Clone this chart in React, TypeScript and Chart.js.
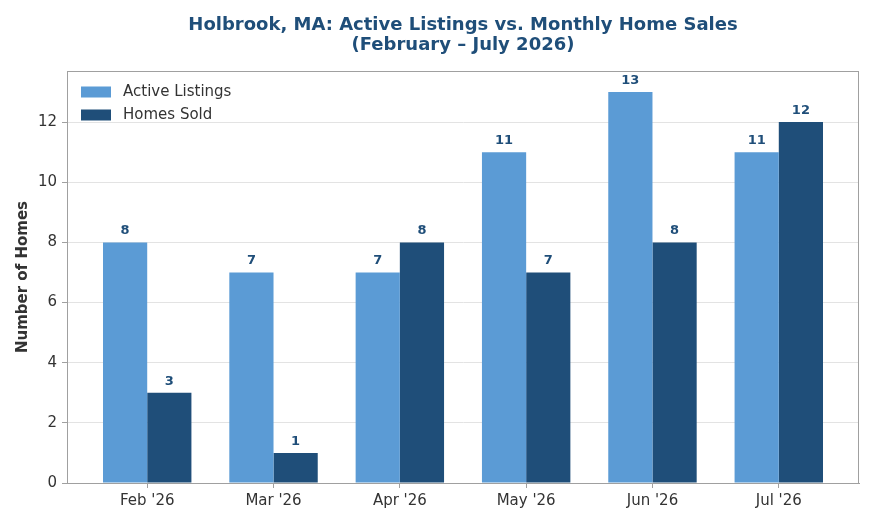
import React, { useEffect, useRef } from "react";
import { Chart, registerables } from "chart.js";

Chart.register(...registerables);

const categories = ["Feb '26", "Mar '26", "Apr '26", "May '26", "Jun '26", "Jul '26"];
const activeListings = [8, 7, 7, 11, 13, 11];
const homesSold = [3, 1, 8, 7, 8, 12];
const yTicks = [0, 2, 4, 6, 8, 10, 12];
const titleLines = ["Holbrook, MA: Active Listings vs. Monthly Home Sales", "(February \u2013 July 2026)"];
const yTitle = "Number of Homes";
const seriesNames = ["Active Listings", "Homes Sold"];
const colors = ["#5b9bd5", "#1f4e79"];

const FONT = "'DejaVu Sans', sans-serif";

export default function App() {
  const ref = useRef<HTMLCanvasElement>(null);
  useEffect(() => {
    const canvas = ref.current!;
    const overlay = {
      id: "overlay",
      afterDatasetsDraw(chart: any) {
        const ctx = chart.ctx;
        const a = chart.chartArea;
        ctx.save();
        // frame
        ctx.strokeStyle = "#a0a0a0";
        ctx.lineWidth = 1;
        ctx.strokeRect(a.left + 0.5, a.top + 0.5, a.right - a.left - 1, a.bottom - a.top);
        // value labels
        ctx.fillStyle = "#1f4e79";
        ctx.font = `bold 13px ${FONT}`;
        ctx.textAlign = "center";
        ctx.textBaseline = "bottom";
        chart.data.datasets.forEach((ds: any, di: number) => {
          const meta = chart.getDatasetMeta(di);
          meta.data.forEach((el: any, i: number) => {
            ctx.fillText(String(ds.data[i].y), el.x, el.y - 5);
          });
        });
        // legend
        ctx.font = `15px ${FONT}`;
        ctx.textAlign = "left";
        ctx.textBaseline = "middle";
        seriesNames.forEach((n, i) => {
          const y = a.top + 21 + i * 23;
          ctx.fillStyle = colors[i];
          ctx.fillRect(a.left + 14, y - 5.5, 30, 11);
          ctx.fillStyle = "#333333";
          ctx.fillText(n, a.left + 56, y);
        });
        // title
        ctx.fillStyle = "#1f4e79";
        ctx.font = `bold 18px ${FONT}`;
        ctx.textAlign = "center";
        ctx.textBaseline = "middle";
        const cx = (a.left + a.right) / 2;
        ctx.fillText(titleLines[0], cx, 25.5);
        ctx.fillText(titleLines[1], cx, 45.5);
        // y title
        ctx.fillStyle = "#333333";
        ctx.font = `bold 15px ${FONT}`;
        ctx.translate(23, (a.top + a.bottom) / 2);
        ctx.rotate(-Math.PI / 2);
        ctx.fillText(yTitle, 0, 0);
        ctx.restore();
      },
    };
    const chart = new Chart(canvas, {
      type: "bar",
      data: {
        datasets: [
          {
            label: seriesNames[0],
            data: activeListings.map((v, i) => ({ x: i, y: v })),
            backgroundColor: colors[0],
          },
          {
            label: seriesNames[1],
            data: homesSold.map((v, i) => ({ x: i, y: v })),
            backgroundColor: colors[1],
          },
        ],
      },
      options: {
        animation: false,
        responsive: false,
        layout: { padding: { top: 71, right: 16, left: 0, bottom: 0 } },
        datasets: { bar: { categoryPercentage: 0.7, barPercentage: 1.0 } },
        plugins: { legend: { display: false }, title: { display: false }, tooltip: { enabled: false } },
        scales: {
          x: {
            type: "linear",
            offset: false,
            min: -0.635,
            max: 5.635,
            afterBuildTicks: (axis: any) => {
              axis.ticks = categories.map((_, i) => ({ value: i }));
            },
            afterFit: (s: any) => {
              s.height = 42;
            },
            ticks: {
              callback: (v: any) => categories[Math.round(Number(v))] ?? "",
              font: { family: FONT, size: 15 },
              color: "#333333",
              padding: 4,
              autoSkip: false,
              maxRotation: 0,
            },
            grid: { offset: false, drawOnChartArea: false, tickLength: 5, tickColor: "#a0a0a0" },
            border: { color: "#a0a0a0" },
          },
          y: {
            min: 0,
            max: 13.7,
            afterBuildTicks: (axis: any) => {
              axis.ticks = yTicks.map((v) => ({ value: v }));
            },
            afterFit: (s: any) => {
              s.width = 67;
            },
            ticks: {
              font: { family: FONT, size: 15 },
              color: "#333333",
              padding: 5,
            },
            grid: { color: "#e3e3e3", tickLength: 5, tickColor: "#a0a0a0" },
            border: { color: "#a0a0a0" },
          },
        },
      },
      plugins: [overlay],
    } as any);
    return () => chart.destroy();
  }, []);
  return (
    <div style={{ position: "fixed", left: 0, top: 0, width: 875, height: 525, background: "#fff" }}>
      <canvas ref={ref} width={875} height={525} style={{ width: 875, height: 525 }} />
    </div>
  );
}
